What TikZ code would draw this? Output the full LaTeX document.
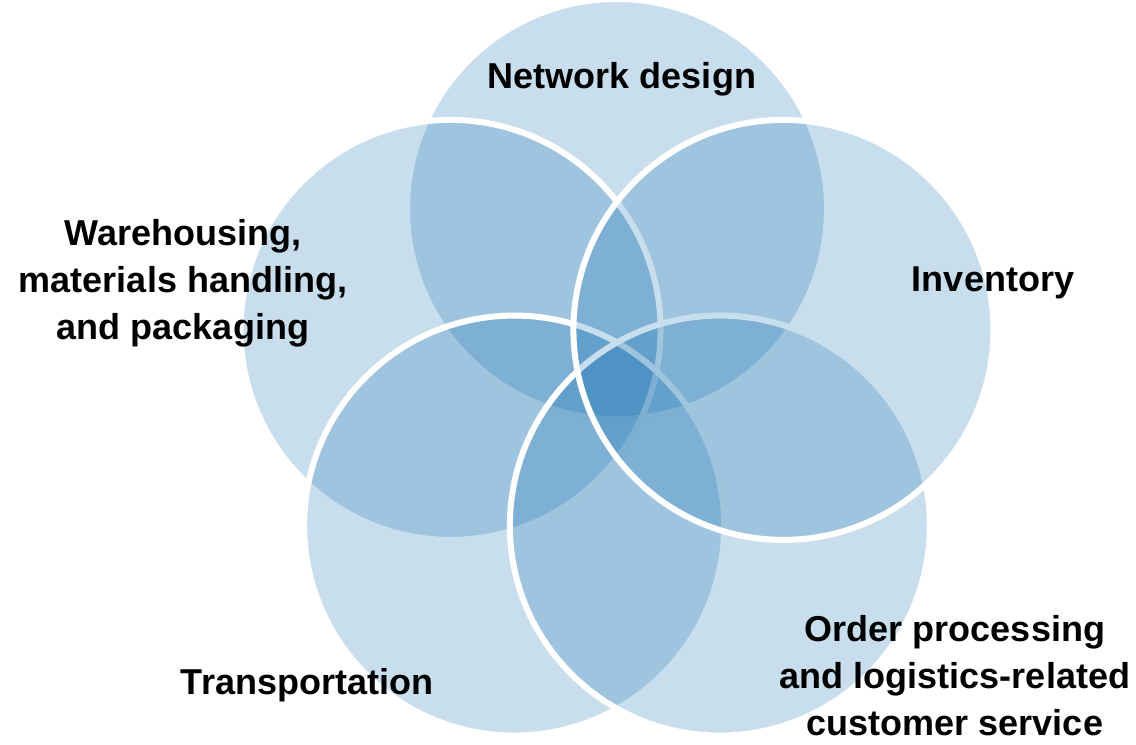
\documentclass[tikz,border=0pt]{standalone}
\usepackage{fontspec}
\setmainfont{Liberation Sans}
\usetikzlibrary{positioning}
\definecolor{petalblue}{RGB}{0,100,170}
\tikzstyle{petal} = [circle, minimum size=315pt, inner sep=0pt, draw=white, line width=4.5pt, fill=petalblue, fill opacity=0.21]
\tikzstyle{title} = [text centered, align=center, inner sep=0pt, anchor=base, font=\fontsize{27}{35.25}\selectfont\bfseries]

\begin{document}
\begin{tikzpicture}[x=0.75pt, y=0.75pt]
		\useasboundingbox (0,0) rectangle (1136,745);
		\coordinate (hub) at (617,361);
		% petals, drawn counterclockwise from the top one
		\foreach \a [count=\i] in {90,162,234,306,378}
			\node (petal\i) [petal] at ([shift={(\a:175)}]hub) {};
		\node (netlabel) [title] at (622,656) {Network design};
		\node (warelabel) [title] at (183,405) {Warehousing,\\materials handling,\\and packaging};
		\node (translabel) [title] at (307,50) {Transportation};
		\node (orderlabel) [title] at (955,9) {Order processing\\and logistics-related\\customer service};
		\node (invlabel) [title] at (993,453) {Inventory};
\end{tikzpicture}
\end{document}
